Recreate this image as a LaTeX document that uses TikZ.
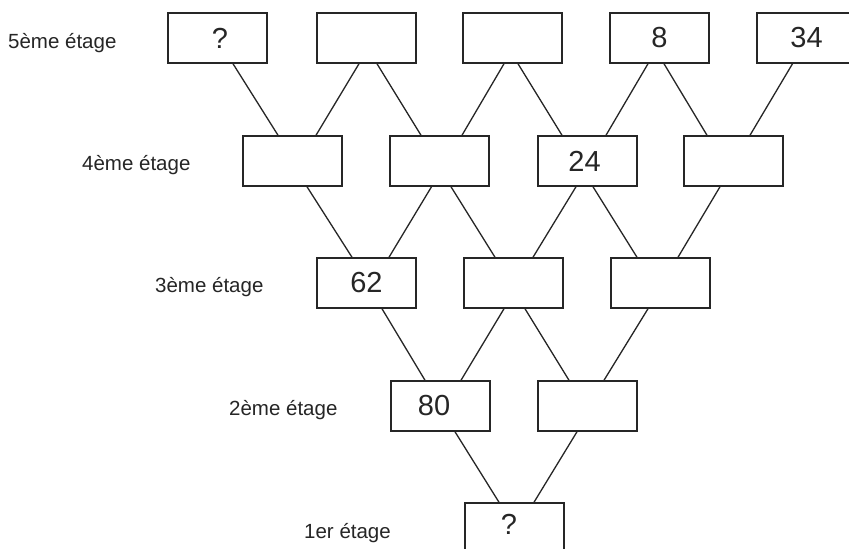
\documentclass[tikz,border=0pt]{standalone}
\usepackage{fontspec}
\setmainfont{Liberation Sans}
\begin{document}
\begin{tikzpicture}[x=1pt,y=-1pt,
  box/.style={draw=black!85,line width=1.5pt,minimum width=99pt,minimum height=50pt,inner sep=0pt,
    font=\fontsize{29}{30}\selectfont,text=black!85},
  lev/.style={anchor=base west,inner sep=0pt,font=\fontsize{20.5}{22}\selectfont,text=black!85},
  link/.style={draw=black!85,line width=1.3pt}]
\useasboundingbox[fill=white] (0,0) rectangle (849,549);
% row 5
\node[box] (r5a) at (217.5,38) {\hspace*{5pt}?};
\node[box] (r5b) at (366.5,38) {};
\node[box] (r5c) at (512.5,38) {};
\node[box] (r5d) at (659.5,38) {8};
\node[box] (r5e) at (806.5,38) {34};
% row 4
\node[box] (r4a) at (292.5,161) {};
\node[box] (r4b) at (439.5,161) {};
\node[box] (r4c) at (587.5,161) {\hspace*{-6pt}24};
\node[box] (r4d) at (733.5,161) {};
% row 3
\node[box] (r3a) at (366.5,283) {62};
\node[box] (r3b) at (513.5,283) {};
\node[box] (r3c) at (660.5,283) {};
% row 2
\node[box] (r2a) at (440.5,406) {\hspace*{-13pt}80};
\node[box] (r2b) at (587.5,406) {};
% row 1
\node[box] (r1) at (514.5,528) {};
\node[font=\fontsize{29}{30}\selectfont,text=black!85,inner sep=0pt] (q1) at (509,524) {?};
% labels
\node[lev] (l5) at (8,48) {5ème étage};
\node[lev] (l4) at (82,170) {4ème étage};
\node[lev] (l3) at (155,292.5) {3ème étage};
\node[lev] (l2) at (229,415) {2ème étage};
\node[lev] (l1) at (304,538) {1er étage};
% connectors
\path[link] ([xshift=15.5pt]r5a.south) -- ([xshift=-14.5pt]r4a.north);
\path[link] ([xshift=-7.5pt]r5b.south) -- ([xshift=23.5pt]r4a.north);
\path[link] ([xshift=10.5pt]r5b.south) -- ([xshift=-18.5pt]r4b.north);
\path[link] ([xshift=-8.5pt]r5c.south) -- ([xshift=22.5pt]r4b.north);
\path[link] ([xshift=5.5pt]r5c.south) -- ([xshift=-25.5pt]r4c.north);
\path[link] ([xshift=-11.5pt]r5d.south) -- ([xshift=18.5pt]r4c.north);
\path[link] ([xshift=4.5pt]r5d.south) -- ([xshift=-26.5pt]r4d.north);
\path[link] ([xshift=-14pt]r5e.south) -- ([xshift=16.5pt]r4d.north);
\path[link] ([xshift=14.5pt]r4a.south) -- ([xshift=-14.5pt]r3a.north);
\path[link] ([xshift=-8pt]r4b.south) -- ([xshift=22.5pt]r3a.north);
\path[link] ([xshift=11.5pt]r4b.south) -- ([xshift=-18.5pt]r3b.north);
\path[link] ([xshift=-11.5pt]r4c.south) -- ([xshift=19.5pt]r3b.north);
\path[link] ([xshift=5.5pt]r4c.south) -- ([xshift=-23.5pt]r3c.north);
\path[link] ([xshift=-13.5pt]r4d.south) -- ([xshift=17.5pt]r3c.north);
\path[link] ([xshift=15.5pt]r3a.south) -- ([xshift=-15.5pt]r2a.north);
\path[link] ([xshift=-9.5pt]r3b.south) -- ([xshift=20.5pt]r2a.north);
\path[link] ([xshift=11.5pt]r3b.south) -- ([xshift=-18.5pt]r2b.north);
\path[link] ([xshift=-12.5pt]r3c.south) -- ([xshift=16.5pt]r2b.north);
\path[link] ([xshift=14.5pt]r2a.south) -- ([xshift=-15.5pt]r1.north);
\path[link] ([xshift=-10.5pt]r2b.south) -- ([xshift=19.5pt]r1.north);
\end{tikzpicture}
\end{document}
